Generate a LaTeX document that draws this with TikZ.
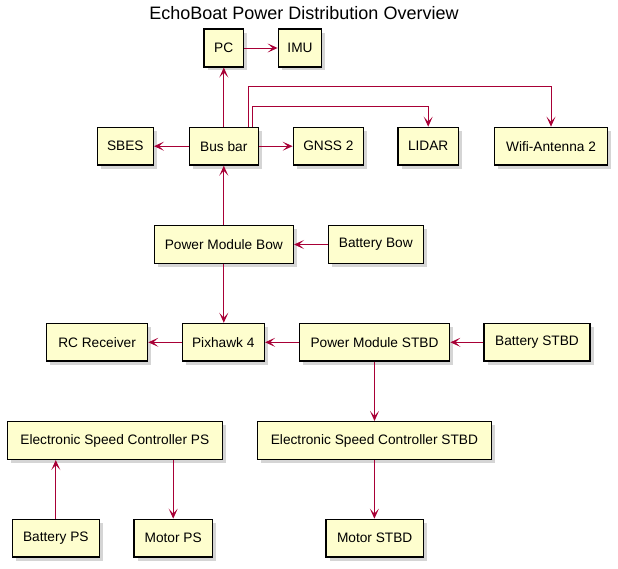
\documentclass[tikz,border=0pt]{standalone}
\usepackage{fontspec}
\setmainfont{Liberation Sans}
\usetikzlibrary{arrows.meta,shadows,calc}
\definecolor{boxfill}{HTML}{FEFECE}
\definecolor{arrowc}{HTML}{A80036}
\begin{document}
\begin{tikzpicture}[x=1pt,y=-1pt,
  comp/.style={draw=black,line width=1.4pt,fill=boxfill,rectangle,inner sep=0pt,
    minimum height=37.7pt,font=\fontsize{13.7}{16}\selectfont,
    drop shadow={shadow xshift=3.5pt,shadow yshift=-3.5pt,opacity=0.3,fill=black!55}},
  conn/.style={draw=arrowc,line width=1pt,-{Stealth[length=10pt,width=9pt,inset=5pt]}},
  titlestyle/.style={font=\fontsize{18}{21}\selectfont,inner sep=0pt}]
\useasboundingbox (0,0) rectangle (618,568);
\node[titlestyle] (title) at (304,13.5) {EchoBoat Power Distribution Overview};
% row 1
\node[comp,minimum width=39.3pt] (pc) at (223.7,48) {PC};
\node[comp,minimum width=43.4pt] (imu) at (300,48) {IMU};
% row 2
\node[comp,minimum width=56pt] (sbes) at (125.3,146.2) {SBES};
\node[comp,minimum width=69pt] (busbar) at (223.8,146.2) {Bus bar};
\node[comp,minimum width=70.2pt] (gnss) at (328.4,146.2) {GNSS 2};
\node[comp,minimum width=60.3pt] (lidar) at (428.2,146.2) {LIDAR};
\node[comp,minimum width=113.4pt] (wifi) at (551,146.2) {Wifi-Antenna 2};
% row 3
\node[comp,minimum width=139pt] (pmb) at (223.8,244.5) {Power Module Bow};
\node[comp,minimum width=95pt] (batbow) at (375.8,244.5) {Battery Bow};
% row 4
\node[comp,minimum width=101pt] (rc) at (97.1,342.3) {RC Receiver};
\node[comp,minimum width=82.2pt] (pix) at (223.3,342.3) {Pixhawk 4};
\node[comp,minimum width=150.3pt] (pms) at (374.5,342.3) {Power Module STBD};
\node[comp,minimum width=106pt] (batstbd) at (537,342.3) {Battery STBD};
% row 5
\node[comp,minimum width=215pt] (escps) at (114.8,440.5) {Electronic Speed Controller PS};
\node[comp,minimum width=234pt] (escstbd) at (374.4,440.5) {Electronic Speed Controller STBD};
% row 6
\node[comp,minimum width=87pt] (batps) at (55.8,538.2) {Battery PS};
\node[comp,minimum width=78.3pt] (motorps) at (173.2,538.2) {Motor PS};
\node[comp,minimum width=97.3pt] (motorstbd) at (374.7,538.2) {Motor STBD};
% connectors
\draw[conn] (busbar.north) -- (busbar.north |- pc.south);
\draw[conn] (pc.east) -- (imu.west);
\draw[conn] ([xshift=28.9pt]busbar.north) -- ++(0,20pt) -| (lidar.north);
\draw[conn] ([xshift=24.5pt]busbar.north) -- ++(0,40.6pt) -| (wifi.north);
\draw[conn] (busbar.west) -- (sbes.east);
\draw[conn] (busbar.east) -- (gnss.west);
\draw[conn] (pmb.north) -- (pmb.north |- busbar.south);
\draw[conn] (batbow.west) -- (pmb.east);
\draw[conn] (pmb.south) -- (pmb.south |- pix.north);
\draw[conn] (pix.west) -- (rc.east);
\draw[conn] (pms.west) -- (pix.east);
\draw[conn] (batstbd.west) -- (pms.east);
\draw[conn] (pms.south) -- (pms.south |- escstbd.north);
\draw[conn] (escstbd.south) -- (escstbd.south |- motorstbd.north);
\draw[conn] (batps.north) -- (batps.north |- escps.south);
\draw[conn] (motorps.north |- escps.south) -- (motorps.north);
\end{tikzpicture}
\end{document}
